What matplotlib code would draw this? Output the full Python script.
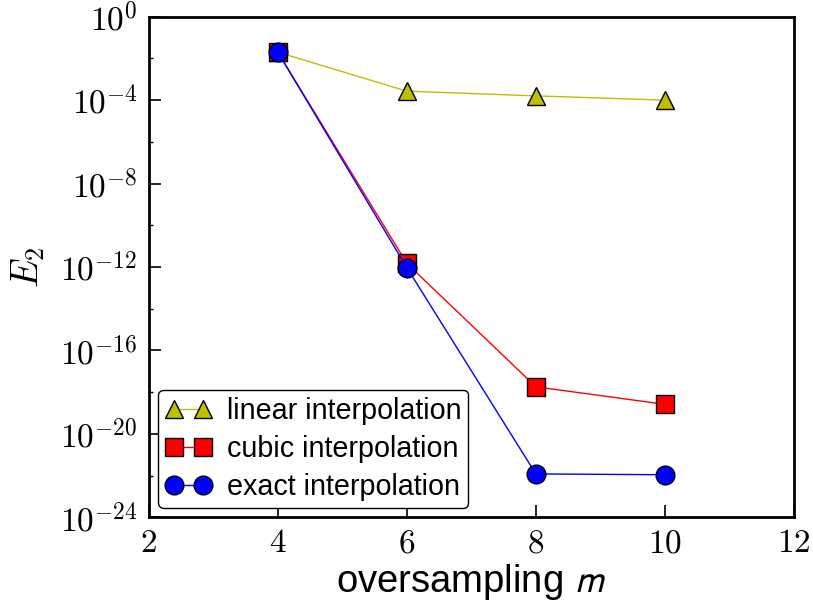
import matplotlib
matplotlib.use("Agg")
import matplotlib.pyplot as plt
from matplotlib.ticker import FixedLocator, FixedFormatter

plt.rcParams['mathtext.fontset'] = 'cm'
plt.rcParams['font.family'] = ['Liberation Sans', 'DejaVu Sans']

m = [4, 6, 8, 10]
err_linear = [2.0e-2, 2.7e-4, 1.6e-4, 1.0e-4]
err_cubic = [2.0e-2, 1.5e-12, 1.8e-18, 2.6e-19]
err_exact = [2.0e-2, 9.3e-13, 1.2e-22, 1.1e-22]
labels = ["linear interpolation", "cubic interpolation", "exact interpolation"]

xticks = [2, 4, 6, 8, 10, 12]
yticks_exp = [0, -4, -8, -12, -16, -20, -24]
yminor_exp = [-2, -6, -10, -14, -18, -22]

fig = plt.figure(figsize=(8.13, 6.06), dpi=100)
ax = fig.add_axes([148.7/813, 1-517.3/606, (794-148.7)/813, (517.3-16.7)/606])

ax.plot(m, err_linear, '-', color='y', marker='^', ms=13.5, mec='k', mew=1, lw=1, label=labels[0])
ax.plot(m, err_cubic, '-', color='r', marker='s', ms=13, mec='k', mew=1, lw=1, label=labels[1])
ax.plot(m, err_exact, '-', color='b', marker='o', ms=13.5, mec='k', mew=1, lw=1, label=labels[2])

ax.set_yscale('log')
ax.set_xlim(2, 12)
ax.set_ylim(1e-24, 1e0)

ax.xaxis.set_major_locator(FixedLocator(xticks))
ax.xaxis.set_major_formatter(FixedFormatter([r"$%d$" % t for t in xticks]))
ax.yaxis.set_major_locator(FixedLocator([10.0**e for e in yticks_exp]))
ax.yaxis.set_major_formatter(FixedFormatter([r"$10^{%d}$" % e for e in yticks_exp]))
ax.yaxis.set_minor_locator(FixedLocator([10.0**e for e in yminor_exp]))
ax.yaxis.set_minor_formatter(FixedFormatter([""] * len(yminor_exp)))
ax.xaxis.set_minor_locator(FixedLocator([]))

ax.tick_params(which='major', direction='in', length=8.5, width=1.2, labelsize=24, pad=8,
               top=False, right=False)
ax.tick_params(which='minor', direction='in', length=3, width=1, top=False, right=False)
for s in ax.spines.values():
    s.set_linewidth(2)

ax.set_xlabel(r"oversampling $m$", fontsize=27.5, math_fontfamily='stixsans', labelpad=2)
ax.set_ylabel(r"$E_2$", fontsize=27, labelpad=9)

leg = ax.legend(loc='lower left', numpoints=2, fontsize=20.7, frameon=True, fancybox=True,
                borderpad=0.25, labelspacing=0.35, handlelength=1.61, handletextpad=0.53,
                borderaxespad=0.32)
leg.get_frame().set_edgecolor('k')
leg.get_frame().set_linewidth(1)
leg.get_frame().set_alpha(1)

fig.savefig("out.png", dpi=100)
